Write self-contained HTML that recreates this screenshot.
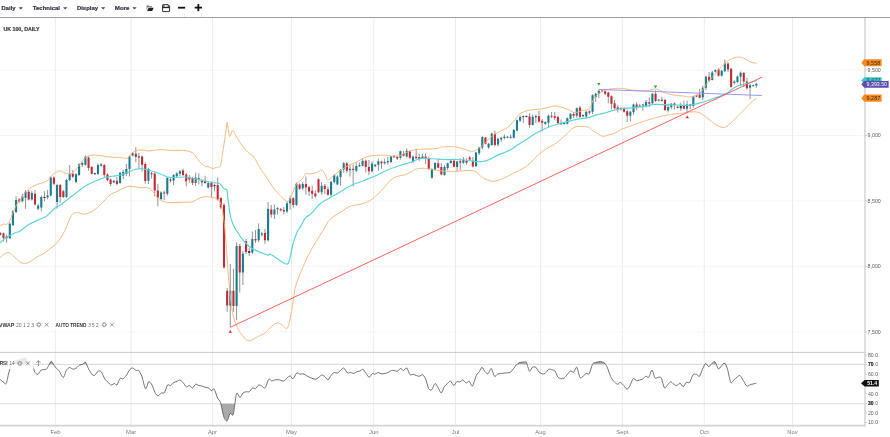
<!DOCTYPE html>
<html><head><meta charset="utf-8"><title>UK 100 Daily</title>
<style>html,body{margin:0;padding:0;background:#fff;overflow:hidden}svg{display:block;filter:blur(0.3px);font-family:"Liberation Sans",sans-serif}.tb{font-weight:bold;font-size:5.8px;fill:#333842;stroke:#333842;stroke-width:0.22px}.ax{font-size:5.4px;fill:#5a5a5a}.mo{font-size:5.8px;fill:#7a7a7a}.lb{font-weight:bold;font-size:5.1px;fill:#333}.ll{font-size:5.1px;fill:#6a6a6a}</style></head><body>
<svg width="890" height="437" viewBox="0 0 890 437">
<rect width="890" height="437" fill="#fff"/>
<g stroke="#e7e7e7" stroke-width="0.8">
<line x1="55.4" y1="18" x2="55.4" y2="427.6"/>
<line x1="131.1" y1="18" x2="131.1" y2="427.6"/>
<line x1="212.5" y1="18" x2="212.5" y2="427.6"/>
<line x1="291.5" y1="18" x2="291.5" y2="427.6"/>
<line x1="373.7" y1="18" x2="373.7" y2="427.6"/>
<line x1="455.5" y1="18" x2="455.5" y2="427.6"/>
<line x1="540.5" y1="18" x2="540.5" y2="427.6"/>
<line x1="622.3" y1="18" x2="622.3" y2="427.6"/>
<line x1="704.3" y1="18" x2="704.3" y2="427.6"/>
<line x1="792.5" y1="18" x2="792.5" y2="427.6"/>
</g>
<g stroke="#f1f1f1" stroke-width="0.75">
<line x1="0" y1="70.2" x2="863" y2="70.2"/>
<line x1="0" y1="135.5" x2="863" y2="135.5"/>
<line x1="0" y1="200.9" x2="863" y2="200.9"/>
<line x1="0" y1="266.4" x2="863" y2="266.4"/>
<line x1="0" y1="331.9" x2="863" y2="331.9"/>
</g>
<g stroke="#dedede" stroke-width="1.1">
<line x1="0" y1="364.4" x2="865" y2="364.4"/>
<line x1="0" y1="403.7" x2="865" y2="403.7"/>
</g>
<polygon points="12.15,364.3 15,360.5 20,359.25 25,357.5 28.75,361.75 31.3,364.3" fill="#ababab"/>
<polygon points="49.46,364.3 51.25,361.25 53.33,364.3" fill="#ababab"/>
<polygon points="82.77,364.3 83,364.25 85.5,362.25 86.45,364.3" fill="#ababab"/>
<polygon points="517.16,364.3 519.5,362.5 522.5,362.25 526.25,362.25 526.99,364.3" fill="#ababab"/>
<polygon points="592.48,364.3 592.5,364.25 595.5,362.5 598.75,361.75 601.75,361.75 605,363.5 605.44,364.3" fill="#ababab"/>
<polygon points="705.08,364.3 705.5,363.5 706.3,364.3" fill="#ababab"/>
<polygon points="711.01,364.3 711.75,363.5 715,361.75 716.18,364.3" fill="#ababab"/>
<polygon points="723.2,364.3 724.5,363 725.12,364.3" fill="#ababab"/>
<polygon points="220.77,403.7 223.75,416.75 227,421 230,413.5 233,415 234.88,403.7" fill="#a9a9a9"/>
<path d="M0.35 232V235.5M3.5 232.5V241.5M6.65 234.5V242.75M9.8 222.5V239M12.95 210V226.25M16.1 196.25V213M19.25 198V203M22.4 193.75V202.5M25.55 190V208.75M28.7 190V200.5M31.85 191.25V200.5M35 190V205.5M38.15 203.75V210M41.3 195.5V211.25M44.45 191.25V201.25M47.6 190V199.25M50.75 176.25V196.5M53.9 176.25V185M57.05 183.75V208.75M60.2 184V202.5M63.35 190V198M66.5 178.75V198M69.65 165V181.25M72.8 170V178M75.95 173V183M79.1 163V176M82.25 161.25V167M85.4 155.5V165.75M88.55 156.25V170.5M91.7 166V174.5M94.85 172.5V174.75M98 163.5V174.75M101.15 163V166.75M104.3 164V177M107.45 173.25V181.25M110.6 178.5V186M113.75 180V183.25M116.9 176.5V185.25M120.05 171.75V183.75M123.2 169.5V179M126.35 164V176M129.5 155.5V176.5M132.65 152V156.5M135.8 147.25V162.25M138.95 152.75V168M142.1 155.5V171.75M145.25 162.25V183.75M148.4 167.75V184M151.55 172V178.5M154.7 172.5V196.25M157.85 183.75V206.25M161 191.25V200M164.15 190.5V200M167.3 177V195.75M170.45 177.5V182.5M173.6 174V185M176.75 172V177M179.9 170V176.25M183.05 168.75V176M186.2 173V186.25M189.35 175V182.5M192.5 176.75V185M195.65 172.5V186.25M198.8 173.25V184.5M201.95 179.5V186.5M205.1 175.75V184M208.25 181.5V188.5M211.4 181.5V197.5M214.55 183.75V191.25M217.7 177.5V200.5M220.85 197V209M224 203V268.5M227.15 288V311.8M230.3 264V327.3M233.45 268.7V311.8M236.6 242.5V320M239.75 244V292.5M242.9 251V285M246.05 239V254M249.2 248V256M252.35 231.5V254M255.5 230V243M258.65 223.3V242.2M261.8 232V236.5M264.95 229V244M268.1 202V241.5M271.25 205V217.7M274.4 204.5V219M277.55 207V214.5M280.7 208V211.5M283.85 207V214.5M287 201.3V213.3M290.15 195.7V209.5M293.3 197V207.6M296.45 182.5V206M299.6 183.5V190M302.75 182V190.25M305.9 176.5V194.75M309.05 186V196M312.2 185.75V199M315.35 190.25V197.75M318.5 178.5V193M321.65 182V194.75M324.8 184V194M327.95 186.5V195.75M331.1 181V196.5M334.25 174.25V183.25M337.4 175.5V185.25M340.55 169V185.75M343.7 162V172.75M346.85 162V173.25M350 165V176.5M353.15 164.5V186.5M356.3 162.5V172M359.45 162.5V167M362.6 158.25V166.25M365.75 159.75V172.5M368.9 160V175.25M372.05 161.25V172.5M375.2 163.75V167.25M378.35 158.75V170.75M381.5 160.75V168.75M384.65 158.75V164.5M387.8 157V164.5M390.95 155.75V163.25M394.1 155.25V158M397.25 156.25V160M400.4 150.5V159.5M403.55 150.75V156.5M406.7 148.25V157.75M409.85 150.5V159M413 155.75V162.75M416.15 148.75V159M419.3 153.75V160.75M422.45 153.75V159M425.6 153.25V164M428.75 156.5V169.75M431.9 168.25V178.75M435.05 162.25V170.75M438.2 159V168.25M441.35 163.25V175.25M444.5 165.25V175.75M447.65 162.5V170.25M450.8 160V163.75M453.95 160V167.5M457.1 160.75V171.5M460.25 158.25V170.25M463.4 157V164M466.55 158.25V164.5M469.7 155.75V160.25M472.85 157V167.5M476 151.75V167M479.15 146.75V155M482.3 136.25V149.5M485.45 136.75V144.5M488.6 143V148.75M491.75 132.5V145.75M494.9 130.5V146.25M498.05 137.75V146.25M501.2 136.75V142M504.35 134.5V139.5M507.5 136V138.5M510.65 134.5V138.75M513.8 129V138.5M516.95 119.5V131.25M520.1 115.25V122M523.25 115.5V123M526.4 115.25V117.5M529.55 113.25V127.75M532.7 114.5V125.5M535.85 114.5V123.25M539 110.75V122.75M542.15 119V131.5M545.3 121.25V124.75M548.45 114.5V127M551.6 112V118.25M554.75 112V120.25M557.9 115.75V124.5M561.05 119.5V124.5M564.2 122.25V124.5M567.35 117.5V124.5M570.5 113.25V119.5M573.65 112V118.25M576.8 107.5V117.75M579.95 105.75V118.25M583.1 114.25V117M586.25 110.75V118M589.4 110.25V114.5M592.55 94.25V114M595.7 92.75V102M598.85 89.5V98.25M602 90V92.25M605.15 90.5V95M608.3 91.75V103.25M611.45 95.25V109.5M614.6 100V109.5M617.75 105V112.5M620.9 107.25V110.5M624.05 107V112.5M627.2 109.5V122M630.35 110.75V121.5M633.5 103.5V115M636.65 102V110M639.8 103.75V107.5M642.95 103.75V110.75M646.1 100V107.5M649.25 97.5V107M652.4 92.75V104M655.55 90.5V102M658.7 99V101.5M661.85 96.75V101.25M665 98.75V111M668.15 103.75V112.5M671.3 103V109.5M674.45 102.5V109.5M677.6 105.75V108.25M680.75 102.5V110.75M683.9 100.75V109.5M687.05 100.75V112M690.2 103.75V109.5M693.35 95.75V107.5M696.5 94.75V97M699.65 89V98.5M702.8 85.75V100.25M705.95 75.75V90.25M709.1 72V81.75M712.25 70.75V80.5M715.4 69.25V72.5M718.55 68.25V76.5M721.7 69.75V76.5M724.85 59.5V72M728 62.5V72M731.15 67.75V87.75M734.3 80.25V84.5M737.45 75.5V83.25M740.6 71.5V85.75M743.75 72V87M746.9 77.75V89.5M750.05 84V99M753.2 84.75V86.5M756.35 82.75V87.75" stroke="#4a4a4a" stroke-width="0.6" fill="none"/>
<path d="M8.75 223.75h2.1v14.5h-2.1zM11.9 211.25h2.1v13.75h-2.1zM15.05 200h2.1v12h-2.1zM21.35 196.25h2.1v5h-2.1zM24.5 191.75h2.1v6.25h-2.1zM30.8 193h2.1v6.5h-2.1zM37.1 205.5h2.1v3.25h-2.1zM40.25 197h2.1v10.5h-2.1zM46.55 195.5h2.1v1.75h-2.1zM49.7 177.5h2.1v18h-2.1zM56 185h2.1v17h-2.1zM65.45 180h2.1v17h-2.1zM68.6 173.75h2.1v6.25h-2.1zM74.9 174.25h2.1v7.75h-2.1zM78.05 164.25h2.1v10.75h-2.1zM81.2 163h2.1v1.75h-2.1zM84.35 156.75h2.1v8h-2.1zM96.95 165h2.1v9h-2.1zM100.1 164.25h2.1v1.5h-2.1zM112.7 180.75h2.1v1.75h-2.1zM119 172.75h2.1v10.25h-2.1zM122.15 172h2.1v3.75h-2.1zM125.3 169h2.1v5h-2.1zM128.45 156.5h2.1v12.5h-2.1zM131.6 153.25h2.1v2.25h-2.1zM147.35 169h2.1v11.75h-2.1zM159.95 192.5h2.1v6.5h-2.1zM166.25 178h2.1v15.75h-2.1zM172.55 175h2.1v5.5h-2.1zM175.7 173.5h2.1v2.75h-2.1zM178.85 171.25h2.1v2.5h-2.1zM194.6 177.5h2.1v5.5h-2.1zM207.2 183h2.1v4.5h-2.1zM229.25 290.7h2.1v14.7h-2.1zM235.55 246h2.1v60h-2.1zM241.85 253.75h2.1v18.75h-2.1zM251.3 239h2.1v13.5h-2.1zM257.6 229h2.1v11.3h-2.1zM260.75 233.4h2.1v1.3h-2.1zM267.05 208.9h2.1v31.4h-2.1zM273.35 209.5h2.1v5h-2.1zM276.5 208h2.1v1.2h-2.1zM285.95 203.2h2.1v8.2h-2.1zM289.1 198.2h2.1v5h-2.1zM295.4 183.75h2.1v21.05h-2.1zM301.7 184h2.1v4.25h-2.1zM320.6 185.75h2.1v6.5h-2.1zM330.05 182h2.1v12.75h-2.1zM333.2 175.25h2.1v6.75h-2.1zM336.35 176.5h2.1v8h-2.1zM339.5 170h2.1v7h-2.1zM342.65 163.25h2.1v6.25h-2.1zM348.95 168.75h2.1v1.5h-2.1zM355.25 166h2.1v4.75h-2.1zM358.4 165h2.1v1.25h-2.1zM361.55 160.75h2.1v5h-2.1zM371 163.5h2.1v7.75h-2.1zM374.15 164.75h2.1v1.5h-2.1zM377.3 161.25h2.1v3.5h-2.1zM383.6 162h2.1v1.25h-2.1zM389.9 156.25h2.1v5.75h-2.1zM399.35 151.25h2.1v6.5h-2.1zM405.65 150.75h2.1v5.75h-2.1zM411.95 156.5h2.1v5.5h-2.1zM421.4 156.5h2.1v1.75h-2.1zM430.85 169h2.1v8.75h-2.1zM434 163h2.1v6.5h-2.1zM443.45 167h2.1v8h-2.1zM446.6 163.25h2.1v4.75h-2.1zM449.75 160.75h2.1v2.25h-2.1zM456.05 161.5h2.1v5.5h-2.1zM462.35 159.5h2.1v3.25h-2.1zM474.95 152.5h2.1v13.75h-2.1zM478.1 147.5h2.1v5.75h-2.1zM481.25 137h2.1v10.5h-2.1zM487.55 143.75h2.1v3.75h-2.1zM490.7 133.75h2.1v11.25h-2.1zM497 138.75h2.1v5.75h-2.1zM500.15 137.75h2.1v1.75h-2.1zM506.45 136.75h2.1v1h-2.1zM509.6 136.75h2.1v1h-2.1zM512.75 130h2.1v7.75h-2.1zM515.9 120.25h2.1v10.25h-2.1zM519.05 117h2.1v3.75h-2.1zM531.65 116.75h2.1v8.25h-2.1zM544.25 122h2.1v2h-2.1zM547.4 115.75h2.1v7h-2.1zM563.15 123h2.1v0.9h-2.1zM566.3 118.25h2.1v5.5h-2.1zM569.45 113.75h2.1v5h-2.1zM575.75 108.25h2.1v7.5h-2.1zM585.2 111.75h2.1v4.75h-2.1zM591.5 95.25h2.1v16.5h-2.1zM594.65 93.75h2.1v3.25h-2.1zM597.8 90.75h2.1v3h-2.1zM629.3 111.75h2.1v4h-2.1zM632.45 104.5h2.1v7.75h-2.1zM638.75 105.5h2.1v1.25h-2.1zM641.9 104.5h2.1v1h-2.1zM645.05 102h2.1v4h-2.1zM651.35 93.75h2.1v9.5h-2.1zM657.65 99.75h2.1v1h-2.1zM667.1 107h2.1v3.5h-2.1zM670.25 103.75h2.1v3.5h-2.1zM686 104.5h2.1v4.25h-2.1zM692.3 96.5h2.1v9.5h-2.1zM701.75 87.75h2.1v9.5h-2.1zM704.9 76.75h2.1v11h-2.1zM711.2 72.5h2.1v7.5h-2.1zM714.35 70h2.1v1.75h-2.1zM720.65 70.75h2.1v5h-2.1zM723.8 63.25h2.1v8h-2.1zM733.25 81.5h2.1v1.5h-2.1zM736.4 76.5h2.1v5.5h-2.1zM739.55 72.75h2.1v4h-2.1zM749 85.25h2.1v2.5h-2.1zM752.15 85.25h2.1v0.9h-2.1zM755.3 83.75h2.1v1.75h-2.1z" fill="#187d90"/>
<path d="M2.45 233.25h2.1v4.75h-2.1zM5.6 236.5h2.1v1.75h-2.1zM18.2 199.5h2.1v2h-2.1zM27.65 191.75h2.1v7.75h-2.1zM33.95 193.75h2.1v10.75h-2.1zM52.85 177.5h2.1v6.25h-2.1zM59.15 185h2.1v12h-2.1zM62.3 191.25h2.1v5.75h-2.1zM71.75 173.75h2.1v3h-2.1zM87.5 157.5h2.1v10.5h-2.1zM90.65 167h2.1v6.75h-2.1zM103.25 165h2.1v10h-2.1zM106.4 174.5h2.1v5.5h-2.1zM109.55 179.5h2.1v4.5h-2.1zM115.85 180.75h2.1v3.25h-2.1zM134.75 153.75h2.1v3.25h-2.1zM141.05 156.5h2.1v8.25h-2.1zM144.2 164h2.1v17h-2.1zM150.5 173.25h2.1v1h-2.1zM153.65 173.5h2.1v17h-2.1zM156.8 190.5h2.1v7h-2.1zM163.1 192.5h2.1v1h-2.1zM182 170.5h2.1v4.5h-2.1zM185.15 174.5h2.1v6.75h-2.1zM188.3 177.5h2.1v2h-2.1zM191.45 178h2.1v5h-2.1zM197.75 178.25h2.1v1.25h-2.1zM204.05 180.75h2.1v2.25h-2.1zM210.35 183h2.1v4h-2.1zM216.65 185h2.1v14.5h-2.1zM219.8 198h2.1v9.5h-2.1zM222.95 205h2.1v62.5h-2.1zM226.1 290.7h2.1v14.7h-2.1zM232.4 290.7h2.1v15.3h-2.1zM238.7 246h2.1v26.5h-2.1zM245 241.3h2.1v10.7h-2.1zM254.45 239h2.1v1.4h-2.1zM263.9 233.1h2.1v7.2h-2.1zM270.2 209.5h2.1v5h-2.1zM279.65 209h2.1v1.2h-2.1zM282.8 210h2.1v1.6h-2.1zM292.25 198.2h2.1v6.8h-2.1zM298.55 184.5h2.1v4.25h-2.1zM304.85 184h2.1v3.5h-2.1zM308 187h2.1v4.5h-2.1zM311.15 190.75h2.1v3h-2.1zM314.3 193.5h2.1v2.75h-2.1zM317.45 179.25h2.1v13h-2.1zM323.75 185.75h2.1v3.25h-2.1zM326.9 189.25h2.1v5.5h-2.1zM345.8 163.25h2.1v7.5h-2.1zM352.1 168.75h2.1v1.25h-2.1zM364.7 160.75h2.1v6.25h-2.1zM367.85 167h2.1v4.25h-2.1zM380.45 161.5h2.1v1.75h-2.1zM393.05 156h2.1v1.25h-2.1zM396.2 157h2.1v1.5h-2.1zM402.5 153.75h2.1v2h-2.1zM408.8 151.25h2.1v6.5h-2.1zM415.1 156.75h2.1v1.5h-2.1zM418.25 157h2.1v2h-2.1zM424.55 156.5h2.1v1.75h-2.1zM427.7 159h2.1v10h-2.1zM437.15 163.25h2.1v4.5h-2.1zM440.3 167h2.1v7.5h-2.1zM452.9 160.75h2.1v6h-2.1zM459.2 161.25h2.1v1.5h-2.1zM465.5 160.75h2.1v2h-2.1zM468.65 157.5h2.1v2h-2.1zM471.8 160.75h2.1v5.75h-2.1zM484.4 137.5h2.1v6.25h-2.1zM493.85 133.75h2.1v11.25h-2.1zM528.5 116.5h2.1v8.5h-2.1zM537.95 116.25h2.1v5.25h-2.1zM541.1 120.75h2.1v2h-2.1zM550.55 115.75h2.1v1h-2.1zM553.7 116.25h2.1v1.75h-2.1zM556.85 117h2.1v6h-2.1zM572.6 114h2.1v1.75h-2.1zM578.9 107.5h2.1v9.25h-2.1zM588.35 111.25h2.1v1.5h-2.1zM600.95 90.5h2.1v1h-2.1zM604.1 91.25h2.1v2.5h-2.1zM607.25 92.5h2.1v4.25h-2.1zM610.4 96.25h2.1v7.5h-2.1zM613.55 103.25h2.1v5h-2.1zM616.7 107.25h2.1v2.25h-2.1zM623 108.25h2.1v3.5h-2.1zM626.15 111.25h2.1v4.5h-2.1zM635.6 104.5h2.1v2.5h-2.1zM648.2 102.25h2.1v1.5h-2.1zM654.5 93.75h2.1v7.25h-2.1zM663.95 100h2.1v10h-2.1zM673.4 103.5h2.1v1.5h-2.1zM682.85 105.75h2.1v3h-2.1zM698.6 94.75h2.1v3h-2.1zM708.05 76.75h2.1v4h-2.1zM717.5 69.5h2.1v6.25h-2.1zM726.95 63.5h2.1v6h-2.1zM730.1 68.75h2.1v18h-2.1zM742.7 73h2.1v8.5h-2.1zM745.85 81.5h2.1v6.75h-2.1z" fill="#c42a36"/>
<path d="M-0.7 233.25h2.1v1.25h-2.1zM43.4 197h2.1v0.9h-2.1zM93.8 173.25h2.1v0.9h-2.1zM137.9 156.5h2.1v0.9h-2.1zM169.4 179.5h2.1v1h-2.1zM200.9 181.25h2.1v0.9h-2.1zM213.5 185h2.1v1.25h-2.1zM248.15 251h2.1v2h-2.1zM386.75 161.25h2.1v0.9h-2.1zM503.3 136.75h2.1v0.9h-2.1zM522.2 116.25h2.1v0.9h-2.1zM525.35 116h2.1v0.9h-2.1zM534.8 116.25h2.1v0.9h-2.1zM560 123.25h2.1v0.9h-2.1zM582.05 115.25h2.1v0.9h-2.1zM619.85 108.25h2.1v1h-2.1zM660.8 99.75h2.1v1h-2.1zM676.55 106.75h2.1v0.9h-2.1zM679.7 106h2.1v2.25h-2.1zM689.15 104.5h2.1v0.9h-2.1zM695.45 95.5h2.1v0.9h-2.1z" fill="#3a3a3a"/>
<g fill="none" stroke-linejoin="round" stroke-linecap="round">
<path d="M-2 226C-1.67 225.93 -0.97 225.92 0 225.6C0.97 225.28 2.75 224.27 3.8 224.1C4.85 223.93 5.37 225.03 6.3 224.6C7.23 224.17 8.4 223.18 9.4 221.5C10.4 219.82 11.13 217.22 12.3 214.5C13.47 211.78 14.98 207.8 16.4 205.2C17.82 202.6 19.33 201 20.8 198.9C22.27 196.8 23.85 194.28 25.2 192.6C26.55 190.92 27.43 189.95 28.9 188.8C30.37 187.65 31.9 186.65 34 185.7C36.1 184.75 39.42 183.83 41.5 183.1C43.58 182.37 45.08 182.23 46.5 181.3C47.92 180.37 48.79 178.76 50 177.5C51.21 176.24 52.08 174.83 53.75 173.75C55.42 172.67 57.92 171.04 60 171C62.08 170.96 64.17 173.17 66.25 173.5C68.33 173.83 70.62 174 72.5 173C74.38 172 75.83 169.46 77.5 167.5C79.17 165.54 81.04 163 82.5 161.25C83.96 159.5 84.58 158.04 86.25 157C87.92 155.96 90.21 155.25 92.5 155C94.79 154.75 97.08 155.17 100 155.5C102.92 155.83 106.67 156.67 110 157C113.33 157.33 117.08 157.33 120 157.5C122.92 157.67 125.42 158.83 127.5 158C129.58 157.17 130.42 153.83 132.5 152.5C134.58 151.17 137.08 150.25 140 150C142.92 149.75 146.67 151.08 150 151C153.33 150.92 156.25 149.58 160 149.5C163.75 149.42 168.33 150.33 172.5 150.5C176.67 150.67 181.67 150.12 185 150.5C188.33 150.88 190.83 152 192.5 152.8C194.17 153.6 193.75 153.73 195 155.3C196.25 156.87 198.32 160.42 200 162.2C201.68 163.98 203.63 165.23 205.1 166C206.57 166.77 207.55 166.38 208.8 166.8C210.05 167.22 211.33 168.4 212.6 168.5C213.87 168.6 215.13 167.82 216.4 167.4C217.67 166.98 219.27 167.82 220.2 166C221.13 164.18 221.27 160.8 222 156.5C222.73 152.2 223.87 145.12 224.6 140.2C225.33 135.28 225.98 129.98 226.4 127C226.82 124.02 226.83 122.22 227.1 122.3C227.37 122.38 227.58 125.15 228 127.5C228.42 129.85 229.05 135.48 229.6 136.4C230.15 137.32 230.72 134.03 231.3 133C231.88 131.97 232.23 129.53 233.1 130.2C233.97 130.87 234.88 134.3 236.5 137C238.12 139.7 240.7 143.67 242.8 146.4C244.9 149.13 247.42 151.82 249.1 153.4C250.78 154.98 251.65 154.55 252.9 155.9C254.15 157.25 255.25 159.23 256.6 161.5C257.95 163.77 259.6 167.25 261 169.5C262.4 171.75 262.67 171.58 265 175C267.33 178.42 271.67 185.83 275 190C278.33 194.17 282.71 198.17 285 200C287.29 201.83 287.29 202.67 288.75 201C290.21 199.33 292.46 192.83 293.75 190C295.04 187.17 295.46 185.53 296.5 184C297.54 182.47 298.92 181.8 300 180.8C301.08 179.8 302.05 179.22 303 178C303.95 176.78 304.52 174.18 305.7 173.5C306.88 172.82 308.32 174.05 310.1 173.9C311.88 173.75 314.52 173.23 316.4 172.6C318.28 171.97 320.03 169.98 321.4 170.1C322.77 170.22 323.65 171.72 324.6 173.3C325.55 174.88 326.15 178.77 327.1 179.6C328.05 180.43 328.73 179.35 330.3 178.3C331.87 177.25 334.42 174.87 336.5 173.3C338.58 171.73 340.7 170.27 342.8 168.9C344.9 167.53 347 166.15 349.1 165.1C351.2 164.05 353.08 163.72 355.4 162.6C357.72 161.48 360.48 159.52 363 158.4C365.52 157.28 368 156.42 370.5 155.9C373 155.38 375.48 155.45 378 155.3C380.52 155.15 383.27 154.85 385.6 155C387.93 155.15 389.6 156.12 392 156.2C394.4 156.28 397.42 156.2 400 155.5C402.58 154.8 405 152.98 407.5 152C410 151.02 412.08 150.08 415 149.6C417.92 149.12 421.42 149.27 425 149.1C428.58 148.93 433.75 148.95 436.5 148.6C439.25 148.25 439.2 147.32 441.5 147C443.8 146.68 447.57 146.65 450.3 146.7C453.03 146.75 455.38 146.83 457.9 147.3C460.42 147.77 463.1 148.82 465.4 149.5C467.7 150.18 469.82 151.35 471.7 151.4C473.58 151.45 475.23 150.53 476.7 149.8C478.17 149.07 479.03 148.22 480.5 147C481.97 145.78 483.82 144.08 485.5 142.5C487.18 140.92 488.6 139.17 490.6 137.5C492.6 135.83 494.68 134.17 497.5 132.5C500.32 130.83 504.58 129.58 507.5 127.5C510.42 125.42 512.92 122.29 515 120C517.08 117.71 517.5 115.42 520 113.75C522.5 112.08 526.25 110.83 530 110C533.75 109.17 538.48 109.4 542.5 108.75C546.52 108.1 551.12 106.39 554.1 106.1C557.08 105.81 558.3 106.53 560.4 107C562.5 107.47 564.82 108.17 566.7 108.9C568.58 109.63 570.23 110.78 571.7 111.4C573.17 112.02 573.82 112.7 575.5 112.6C577.18 112.5 579.72 111.32 581.8 110.8C583.88 110.28 586.53 110.23 588 109.5C589.47 108.77 589.65 108.18 590.6 106.4C591.55 104.62 592.55 100.78 593.7 98.8C594.85 96.82 596.13 95.72 597.5 94.5C598.87 93.28 600.23 92.33 601.9 91.5C603.57 90.67 604.9 90.03 607.5 89.5C610.1 88.97 614.58 88.42 617.5 88.3C620.42 88.18 622.68 88.52 625 88.8C627.32 89.08 628.85 89.7 631.4 90C633.95 90.3 637.57 90.5 640.3 90.6C643.03 90.7 645.3 90.85 647.8 90.6C650.3 90.35 653.42 89.2 655.3 89.1C657.18 89 657.42 89.33 659.1 90C660.78 90.67 663.08 92.27 665.4 93.1C667.72 93.93 670.27 94.53 673 95C675.73 95.47 678.87 95.58 681.8 95.9C684.73 96.22 688.3 96.95 690.6 96.9C692.9 96.85 693.93 96.33 695.6 95.6C697.27 94.87 699.13 93.87 700.6 92.5C702.07 91.13 703.13 89.18 704.4 87.4C705.67 85.62 706.85 83.53 708.2 81.8C709.55 80.07 711.13 78.53 712.5 77C713.87 75.47 714.92 74.27 716.4 72.6C717.88 70.93 719.72 68.77 721.4 67C723.08 65.23 724.82 63.37 726.5 62C728.18 60.63 729.83 59.6 731.5 58.8C733.17 58 734.82 57.42 736.5 57.2C738.18 56.98 739.92 57.07 741.6 57.5C743.28 57.93 744.93 59 746.6 59.8C748.27 60.6 749.98 61.73 751.6 62.3C753.23 62.87 755.56 63.05 756.35 63.2" stroke="#f6b27a" stroke-width="0.9"/>
<path d="M-2 259.5C-1.67 259.22 -0.97 258.7 0 257.8C0.97 256.9 2.33 254.93 3.8 254.1C5.27 253.27 7.33 252.6 8.8 252.8C10.27 253 11.13 254.1 12.6 255.3C14.07 256.5 16.03 258.72 17.6 260C19.17 261.28 20.43 262.5 22 263C23.57 263.5 25.22 263.5 27 263C28.78 262.5 30.92 261.07 32.7 260C34.48 258.93 35.82 257.7 37.7 256.6C39.58 255.5 41.9 254.77 44 253.4C46.1 252.03 48.42 249.87 50.3 248.4C52.18 246.93 53.62 246.28 55.3 244.6C56.98 242.92 58.72 240.82 60.4 238.3C62.08 235.78 63.93 232.53 65.4 229.5C66.87 226.47 68.05 222.62 69.2 220.1C70.35 217.58 71.05 215.7 72.3 214.4C73.55 213.1 74.7 212.35 76.7 212.3C78.7 212.25 81.57 214.37 84.3 214.1C87.03 213.83 90.38 212.28 93.1 210.7C95.82 209.12 97.78 207.22 100.6 204.6C103.42 201.98 107.18 197.22 110 195C112.82 192.78 115 192.5 117.5 191.25C120 190 122.92 188.33 125 187.5C127.08 186.67 127.5 186.25 130 186.25C132.5 186.25 136.67 187.08 140 187.5C143.33 187.92 147.08 187.08 150 188.75C152.92 190.42 155 195.29 157.5 197.5C160 199.71 162.08 201.17 165 202C167.92 202.83 171.83 202.47 175 202.5C178.17 202.53 181.25 202.28 184 202.2C186.75 202.12 189.2 202.53 191.5 202C193.8 201.47 195.7 199.87 197.8 199C199.9 198.13 201.58 197.07 204.1 196.8C206.62 196.53 210.8 197.03 212.9 197.4C215 197.77 215.45 198.1 216.7 199C217.95 199.9 219.47 200.92 220.4 202.8C221.33 204.68 221.8 207.93 222.3 210.3C222.8 212.67 222.95 213.72 223.4 217C223.85 220.28 224.42 223.67 225 230C225.58 236.33 226.28 246.67 226.9 255C227.53 263.33 227.82 270.42 228.75 280C229.68 289.58 231.04 304.5 232.5 312.5C233.96 320.5 235.83 324.17 237.5 328C239.17 331.83 240.62 333.33 242.5 335.5C244.38 337.67 246.25 340.79 248.75 341C251.25 341.21 254.79 338.08 257.5 336.75C260.21 335.42 263.12 334.25 265 333C266.88 331.75 267.42 330.58 268.75 329.25C270.08 327.92 271.54 326.04 273 325C274.46 323.96 276 323.03 277.5 323C279 322.97 280.47 323.88 282 324.8C283.53 325.72 285.53 328.72 286.7 328.5C287.87 328.28 288.18 326.33 289 323.5C289.82 320.67 290.83 315.83 291.6 311.5C292.37 307.17 292.83 302.08 293.6 297.5C294.38 292.92 294.35 289.83 296.25 284C298.15 278.17 302.29 268.58 305 262.5C307.71 256.42 309.58 252.71 312.5 247.5C315.42 242.29 319.58 235.96 322.5 231.25C325.42 226.54 327.08 222.38 330 219.25C332.92 216.12 336.67 214.67 340 212.5C343.33 210.33 347.33 207.5 350 206.25C352.67 205 353.83 205.44 356 205C358.17 204.56 360.58 204.38 363 203.6C365.42 202.82 368 201.9 370.5 200.3C373 198.7 375.92 195.88 378 194C380.08 192.12 381.33 190.88 383 189C384.67 187.12 386.33 184.48 388 182.7C389.67 180.92 391.33 179.38 393 178.3C394.67 177.22 396.67 176.65 398 176.2C399.33 175.75 399.62 175.9 401 175.6C402.38 175.3 404.37 175.2 406.3 174.4C408.23 173.6 410.92 171.7 412.6 170.8C414.28 169.9 414.3 169.42 416.4 169C418.5 168.58 422.1 168.13 425.2 168.3C428.3 168.47 431.7 169.51 435 170C438.3 170.49 441.25 171.04 445 171.25C448.75 171.46 453.75 171.38 457.5 171.25C461.25 171.12 464.58 170.5 467.5 170.5C470.42 170.5 472.5 170.08 475 171.25C477.5 172.42 479.58 175.83 482.5 177.5C485.42 179.17 489.17 181.04 492.5 181.25C495.83 181.46 499.17 180 502.5 178.75C505.83 177.5 509.17 175.42 512.5 173.75C515.83 172.08 519.58 170.49 522.5 168.75C525.42 167.01 527.5 165.48 530 163.3C532.5 161.12 535 158 537.5 155.7C540 153.4 542.23 151.37 545 149.5C547.77 147.63 551.53 146.13 554.1 144.5C556.67 142.87 558.3 141.45 560.4 139.7C562.5 137.95 564.82 135.78 566.7 134C568.58 132.22 570.03 130.25 571.7 129C573.37 127.75 574.82 126.92 576.7 126.5C578.58 126.08 581.12 126.4 583 126.5C584.88 126.6 586.32 126.37 588 127.1C589.68 127.83 591.42 129.75 593.1 130.9C594.78 132.05 596.43 133.1 598.1 134C599.77 134.9 601.42 136.13 603.1 136.3C604.78 136.47 606.8 135.33 608.2 135C609.6 134.67 610.35 134.63 611.5 134.3C612.65 133.97 613.25 133.9 615.1 133C616.95 132.1 619.88 130.1 622.6 128.9C625.32 127.7 628.25 126.95 631.4 125.8C634.55 124.65 638.35 123.08 641.5 122C644.65 120.92 647.15 120.23 650.3 119.3C653.45 118.37 657.05 117.2 660.4 116.4C663.75 115.6 667.05 114.98 670.4 114.5C673.75 114.02 677.55 113.88 680.5 113.5C683.45 113.12 685.58 112.47 688.1 112.2C690.62 111.93 693.52 111.73 695.6 111.9C697.68 112.07 698.92 112.35 700.6 113.2C702.28 114.05 703.97 115.73 705.7 117C707.43 118.27 709.24 119.47 711 120.8C712.76 122.13 714.12 123.88 716.25 125C718.38 126.12 721.46 127.71 723.75 127.5C726.04 127.29 727.71 125.62 730 123.75C732.29 121.88 735 118.75 737.5 116.25C740 113.75 742.5 111.25 745 108.75C747.5 106.25 750.61 102.97 752.5 101.25C754.39 99.53 755.71 98.88 756.35 98.4" stroke="#f6b27a" stroke-width="0.9"/>
<path d="M-2 244.2C-1.67 243.95 -1.17 243.65 0 242.7C1.17 241.75 3.33 239.68 5 238.5C6.67 237.32 8.1 236.65 10 235.6C11.9 234.55 14.92 232.83 16.4 232.2C17.88 231.57 17.63 232.5 18.9 231.8C20.17 231.1 22.33 229.22 24 228C25.67 226.78 26.62 225.82 28.9 224.5C31.18 223.18 34.97 221.35 37.7 220.1C40.43 218.85 43.2 218.27 45.3 217C47.4 215.73 48.63 213.98 50.3 212.5C51.97 211.02 53.42 209.48 55.3 208.1C57.18 206.72 59.98 205.32 61.6 204.2C63.22 203.08 62.77 203.14 65 201.4C67.23 199.66 71.67 196.28 75 193.75C78.33 191.22 81.67 188.33 85 186.25C88.33 184.17 91.67 182.71 95 181.25C98.33 179.79 102.08 178.33 105 177.5C107.92 176.67 110 176.67 112.5 176.25C115 175.83 117.5 175.62 120 175C122.5 174.38 125 173.42 127.5 172.5C130 171.58 132.5 170.12 135 169.5C137.5 168.88 140 168.58 142.5 168.75C145 168.92 147.08 169.67 150 170.5C152.92 171.33 157.08 172.67 160 173.75C162.92 174.83 165 176.38 167.5 177C170 177.62 172.08 177.5 175 177.5C177.92 177.5 182.25 176.92 185 177C187.75 177.08 188.95 177.52 191.5 178C194.05 178.48 197.37 179.23 200.3 179.9C203.23 180.57 206.05 181.43 209.1 182C212.15 182.57 216.5 182.67 218.6 183.3C220.7 183.93 220.8 184.88 221.7 185.8C222.6 186.72 223.15 188.13 224 188.8C224.85 189.47 226.17 188.43 226.8 189.8C227.43 191.17 227.43 194.22 227.8 197C228.17 199.78 228.6 203.5 229 206.5C229.4 209.5 229.62 212.25 230.2 215C230.78 217.75 231.53 220.5 232.5 223C233.47 225.5 233.92 226.75 236 230C238.08 233.25 242.25 239.38 245 242.5C247.75 245.62 248.75 246.67 252.5 248.75C256.25 250.83 264.42 254.04 267.5 255C270.58 255.96 267.92 253 271 254.5C274.08 256 282.92 263.17 286 264C289.08 264.83 288.7 261.17 289.5 259.5C290.3 257.83 290.22 256.58 290.8 254C291.38 251.42 292 247.55 293 244C294 240.45 295.53 235.63 296.8 232.7C298.07 229.77 299.13 228.92 300.6 226.4C302.07 223.88 304.13 219.5 305.6 217.6C307.07 215.7 307.93 216.25 309.4 215C310.87 213.75 312.47 212.12 314.4 210.1C316.33 208.08 317.57 205.42 321 202.9C324.43 200.38 330.17 197.82 335 195C339.83 192.18 345.42 188.33 350 186C354.58 183.67 358.33 182.67 362.5 181C366.67 179.33 370.83 177.83 375 176C379.17 174.17 383.33 171.75 387.5 170C391.67 168.25 396.25 166.75 400 165.5C403.75 164.25 406.67 163.62 410 162.5C413.33 161.38 416.25 159.38 420 158.75C423.75 158.12 428.33 158.62 432.5 158.75C436.67 158.88 440.83 159.38 445 159.5C449.17 159.62 453.47 159.33 457.5 159.5C461.53 159.67 465.78 160.13 469.2 160.5C472.62 160.87 475.28 161.65 478 161.7C480.72 161.75 483.4 161.27 485.5 160.8C487.6 160.33 488.52 159.85 490.6 158.9C492.68 157.95 495.48 156.25 498 155.1C500.52 153.95 503.53 152.92 505.7 152C507.87 151.08 509.02 150.77 511 149.6C512.98 148.43 515.23 146.55 517.6 145C519.97 143.45 522.68 141.92 525.2 140.3C527.72 138.68 529.98 136.97 532.7 135.3C535.42 133.63 538.57 131.77 541.5 130.3C544.43 128.83 547.57 127.55 550.3 126.5C553.03 125.45 555.38 124.73 557.9 124C560.42 123.27 562.47 122.83 565.4 122.1C568.33 121.37 571.73 120.33 575.5 119.6C579.27 118.87 584.65 118.43 588 117.7C591.35 116.97 593.08 115.93 595.6 115.2C598.12 114.47 600.53 113.98 603.1 113.3C605.67 112.62 608.78 111.72 611 111.1C613.22 110.48 614.03 110.07 616.4 109.6C618.77 109.13 622.27 108.63 625.2 108.3C628.13 107.97 631.28 107.87 634 107.6C636.72 107.33 639.2 106.98 641.5 106.7C643.8 106.42 645.92 106.28 647.8 105.9C649.68 105.52 651.12 104.65 652.8 104.4C654.48 104.15 655.8 104.35 657.9 104.4C660 104.45 662.47 104.6 665.4 104.7C668.33 104.8 672.15 104.88 675.5 105C678.85 105.12 682.57 105.45 685.5 105.4C688.43 105.35 690.78 105.07 693.1 104.7C695.42 104.33 697.3 103.77 699.4 103.2C701.5 102.63 703.77 101.93 705.7 101.3C707.63 100.67 708.78 100.18 711 99.4C713.22 98.62 716.42 97.57 719 96.6C721.58 95.63 724.42 94.77 726.5 93.6C728.58 92.43 729.62 90.9 731.5 89.6C733.38 88.3 735.92 86.65 737.8 85.8C739.68 84.95 741.12 84.93 742.8 84.5C744.48 84.07 746.37 83.62 747.9 83.2C749.43 82.78 750.59 82.42 752 82C753.41 81.58 755.62 80.92 756.35 80.7" stroke="#5fd1d6" stroke-width="1.2"/>
</g>
<line x1="598.8" y1="89.4" x2="762" y2="95.5" stroke="#8d8cf0" stroke-width="0.9"/>
<line x1="230.3" y1="327.3" x2="762" y2="77.2" stroke="#f0524f" stroke-width="0.9"/>
<polygon points="597.1,83 600.5,83 598.8,85.8" fill="#2e9e2e"/>
<polygon points="653.8,85.5 657.2,85.5 655.5,88.3" fill="#2e9e2e"/>
<polygon points="228.7,332.7 231.9,332.7 230.3,329.9" fill="#ee1c24"/>
<polygon points="685.7,118.3 688.9,118.3 687.3,115.5" fill="#ee1c24"/>
<path d="M-2 377C-1.73 377.3 -0.77 378.52 0 379.25C0.77 379.98 2.92 381.93 3.75 382.5C4.58 383.07 5.58 384.77 6.25 383.5C6.92 382.23 8.08 375.4 8.75 373C9.42 370.6 10.42 367.17 11.25 365.5C12.08 363.83 13.83 361.33 15 360.5C16.17 359.67 18.67 359.65 20 359.25C21.33 358.85 23.83 357.17 25 357.5C26.17 357.83 27.75 360.68 28.75 361.75C29.75 362.82 31.67 364.07 32.5 365.5C33.33 366.93 34.27 371.33 35 372.5C35.73 373.67 37.17 374.58 38 374.25C38.83 373.92 40.15 370.67 41.25 370C42.35 369.33 45.25 369.85 46.25 369.25C47.25 368.65 48.08 366.57 48.75 365.5C49.42 364.43 50.42 361.08 51.25 361.25C52.08 361.42 54 365.52 55 366.75C56 367.98 57.65 369.07 58.75 370.5C59.85 371.93 62.25 377.5 63.25 377.5C64.25 377.5 65.42 371.83 66.25 370.5C67.08 369.17 68.6 367.67 69.5 367.5C70.4 367.33 72.1 369.18 73 369.25C73.9 369.32 75.38 368.57 76.25 368C77.12 367.43 78.6 365.5 79.5 365C80.4 364.5 82.2 364.62 83 364.25C83.8 363.88 84.73 361.58 85.5 362.25C86.27 362.92 87.82 367.55 88.75 369.25C89.68 370.95 91.67 374.23 92.5 375C93.33 375.77 94.27 375.5 95 375C95.73 374.5 97.17 371.68 98 371.25C98.83 370.82 100.32 370.68 101.25 371.75C102.18 372.82 104 377.75 105 379.25C106 380.75 107.92 382.23 108.75 383C109.58 383.77 110.48 384.93 111.25 385C112.02 385.07 113.73 383.5 114.5 383.5C115.27 383.5 116.27 385.67 117 385C117.73 384.33 119.2 379.33 120 378.5C120.8 377.67 122.17 379.15 123 378.75C123.83 378.35 125.38 376.67 126.25 375.5C127.12 374.33 128.67 371 129.5 370C130.33 369 131.6 367.93 132.5 368C133.4 368.07 135.42 370.17 136.25 370.5C137.08 370.83 137.98 369.67 138.75 370.5C139.52 371.33 141.1 374.32 142 376.75C142.9 379.18 144.6 388.08 145.5 388.75C146.4 389.42 147.88 382.25 148.75 381.75C149.62 381.25 151.17 383.57 152 385C152.83 386.43 154.2 391.03 155 392.5C155.8 393.97 157.17 395.93 158 396C158.83 396.07 160.38 393.47 161.25 393C162.12 392.53 163.67 393.57 164.5 392.5C165.33 391.43 166.7 385.93 167.5 385C168.3 384.07 169.67 385.83 170.5 385.5C171.33 385.17 172.88 383.07 173.75 382.5C174.62 381.93 176.17 381.58 177 381.25C177.83 380.92 179.2 379.83 180 380C180.8 380.17 182.17 381.6 183 382.5C183.83 383.4 185.42 386.35 186.25 386.75C187.08 387.15 188.42 385.33 189.25 385.5C190.08 385.67 191.67 388.17 192.5 388C193.33 387.83 194.67 384.58 195.5 384.25C196.33 383.92 197.88 385.27 198.75 385.5C199.62 385.73 201.17 385.77 202 386C202.83 386.23 204.1 386.98 205 387.25C205.9 387.52 207.92 387.57 208.75 388C209.58 388.43 210.52 390.33 211.25 390.5C211.98 390.67 213.42 388.25 214.25 389.25C215.08 390.25 216.67 396.23 217.5 398C218.33 399.77 219.67 400 220.5 402.5C221.33 405 222.88 414.28 223.75 416.75C224.62 419.22 226.17 421.43 227 421C227.83 420.57 229.2 414.3 230 413.5C230.8 412.7 232.33 416.4 233 415C233.67 413.6 234.5 405.93 235 403C235.5 400.07 236.08 393.73 236.75 393C237.42 392.27 239.17 397.5 240 397.5C240.83 397.5 242.17 393.77 243 393C243.83 392.23 245.42 391.92 246.25 391.75C247.08 391.58 248.42 392.25 249.25 391.75C250.08 391.25 251.67 388.4 252.5 388C253.33 387.6 254.67 389.15 255.5 388.75C256.33 388.35 257.92 385.37 258.75 385C259.58 384.63 260.92 385.6 261.75 386C262.58 386.4 264.07 388.9 265 388C265.93 387.1 267.82 380.18 268.75 379.25C269.68 378.32 271.17 380.93 272 381C272.83 381.07 274.1 379.92 275 379.75C275.9 379.58 277.58 379.58 278.75 379.75C279.92 379.92 282.58 381.3 283.75 381C284.92 380.7 286.6 378.17 287.5 377.5C288.4 376.83 289.77 375.83 290.5 376C291.23 376.17 292.17 379.15 293 378.75C293.83 378.35 295.82 373.6 296.75 373C297.68 372.4 299.17 374.15 300 374.25C300.83 374.35 302 373.48 303 373.75C304 374.02 306.4 375.68 307.5 376.25C308.6 376.82 310.25 377.6 311.25 378C312.25 378.4 314.1 379.25 315 379.25C315.9 379.25 317.1 378.57 318 378C318.9 377.43 320.82 375.17 321.75 375C322.68 374.83 324.17 376.08 325 376.75C325.83 377.42 327.17 380.23 328 380C328.83 379.77 330.42 376 331.25 375C332.08 374 333.42 372.77 334.25 372.5C335.08 372.23 336.67 373.27 337.5 373C338.33 372.73 339.67 371.17 340.5 370.5C341.33 369.83 342.82 367.67 343.75 368C344.68 368.33 346.6 372.4 347.5 373C348.4 373.6 349.67 372.43 350.5 372.5C351.33 372.57 352.92 373.6 353.75 373.5C354.58 373.4 355.92 372.08 356.75 371.75C357.58 371.42 359.17 371.33 360 371C360.83 370.67 362.17 368.88 363 369.25C363.83 369.62 365.42 372.68 366.25 373.75C367.08 374.82 368.42 377.28 369.25 377.25C370.08 377.22 371.73 373.9 372.5 373.5C373.27 373.1 374.27 374.38 375 374.25C375.73 374.12 377.17 372.57 378 372.5C378.83 372.43 380.32 373.62 381.25 373.75C382.18 373.88 384.1 373.67 385 373.5C385.9 373.33 387.17 372.9 388 372.5C388.83 372.1 390.42 370.77 391.25 370.5C392.08 370.23 393.42 370.4 394.25 370.5C395.08 370.6 396.67 371.52 397.5 371.25C398.33 370.98 399.7 368.6 400.5 368.5C401.3 368.4 402.67 370.57 403.5 370.5C404.33 370.43 405.88 367.43 406.75 368C407.62 368.57 409.17 373.92 410 374.75C410.83 375.58 412.17 374.15 413 374.25C413.83 374.35 415.42 375.23 416.25 375.5C417.08 375.77 418.42 376.35 419.25 376.25C420.08 376.15 421.67 374.42 422.5 374.75C423.33 375.08 424.67 376.88 425.5 378.75C426.33 380.62 427.92 387.28 428.75 388.75C429.58 390.22 430.92 390.45 431.75 389.75C432.58 389.05 434.17 383.8 435 383.5C435.83 383.2 437.17 386.23 438 387.5C438.83 388.77 440.42 393.1 441.25 393C442.08 392.9 443.42 388.02 444.25 386.75C445.08 385.48 446.67 384.27 447.5 383.5C448.33 382.73 449.67 380.73 450.5 381C451.33 381.27 452.92 385.4 453.75 385.5C454.58 385.6 455.92 382.25 456.75 381.75C457.58 381.25 459.17 381.98 460 381.75C460.83 381.52 462.17 379.83 463 380C463.83 380.17 465.42 382.83 466.25 383C467.08 383.17 468.42 380.85 469.25 381.25C470.08 381.65 471.57 386.77 472.5 386C473.43 385.23 475.35 377.4 476.25 375.5C477.15 373.6 478.48 372.85 479.25 371.75C480.02 370.65 481.23 367.25 482 367.25C482.77 367.25 484.2 370.88 485 371.75C485.8 372.62 487.17 374.18 488 373.75C488.83 373.32 490.38 368.17 491.25 368.5C492.12 368.83 493.67 375.48 494.5 376.25C495.33 377.02 496.7 374.62 497.5 374.25C498.3 373.88 499.5 373.67 500.5 373.5C501.5 373.33 503.73 373.13 505 373C506.27 372.87 508.93 373 510 372.5C511.07 372 512.17 370.25 513 369.25C513.83 368.25 515.38 365.9 516.25 365C517.12 364.1 518.67 362.87 519.5 362.5C520.33 362.13 521.6 362.28 522.5 362.25C523.4 362.22 525.32 361.05 526.25 362.25C527.18 363.45 528.67 370.58 529.5 371.25C530.33 371.92 531.67 367.78 532.5 367.25C533.33 366.72 534.92 366.65 535.75 367.25C536.58 367.85 537.92 370.88 538.75 371.75C539.58 372.62 541.17 373.52 542 373.75C542.83 373.98 544.1 374.1 545 373.5C545.9 372.9 547.85 369.75 548.75 369.25C549.65 368.75 550.92 369.52 551.75 369.75C552.58 369.98 554.17 370 555 371C555.83 372 557.17 376.22 558 377.25C558.83 378.28 560.42 378.65 561.25 378.75C562.08 378.85 563.42 378.6 564.25 378C565.08 377.4 566.67 375.18 567.5 374.25C568.33 373.32 569.67 371.27 570.5 371C571.33 370.73 572.92 372.75 573.75 372.25C574.58 371.75 575.92 366.55 576.75 367.25C577.58 367.95 579.17 376.3 580 377.5C580.83 378.7 582.17 376.78 583 376.25C583.83 375.72 585.42 373.83 586.25 373.5C587.08 373.17 588.42 374.98 589.25 373.75C590.08 372.52 591.67 365.75 592.5 364.25C593.33 362.75 594.67 362.83 595.5 362.5C596.33 362.17 597.92 361.85 598.75 361.75C599.58 361.65 600.92 361.52 601.75 361.75C602.58 361.98 604.23 362.67 605 363.5C605.77 364.33 606.77 366.3 607.5 368C608.23 369.7 609.67 374.48 610.5 376.25C611.33 378.02 612.82 380.18 613.75 381.25C614.68 382.32 616.6 384.08 617.5 384.25C618.4 384.42 619.67 382.33 620.5 382.5C621.33 382.67 622.88 384.6 623.75 385.5C624.62 386.4 626.17 389.25 627 389.25C627.83 389.25 629.17 386.93 630 385.5C630.83 384.07 632.42 379.17 633.25 378.5C634.08 377.83 635.42 380.3 636.25 380.5C637.08 380.7 638.67 380.17 639.5 380C640.33 379.83 641.67 379.75 642.5 379.25C643.33 378.75 644.92 376.52 645.75 376.25C646.58 375.98 647.92 378.08 648.75 377.25C649.58 376.42 651.17 369.9 652 370C652.83 370.1 654.17 377.03 655 378C655.83 378.97 657.42 377.25 658.25 377.25C659.08 377.25 660.42 376.57 661.25 378C662.08 379.43 663.67 387.07 664.5 388C665.33 388.93 666.67 385.83 667.5 385C668.33 384.17 669.92 381.85 670.75 381.75C671.58 381.65 672.92 383.75 673.75 384.25C674.58 384.75 676.17 385.67 677 385.5C677.83 385.33 679.17 382.83 680 383C680.83 383.17 682.42 386.85 683.25 386.75C684.08 386.65 685.42 382.82 686.25 382.25C687.08 381.68 688.6 383.47 689.5 382.5C690.4 381.53 692.1 376.1 693 375C693.9 373.9 695.38 374.08 696.25 374.25C697.12 374.42 698.67 376.92 699.5 376.25C700.33 375.58 701.7 370.95 702.5 369.25C703.3 367.55 704.67 363.83 705.5 363.5C706.33 363.17 707.92 366.75 708.75 366.75C709.58 366.75 710.92 364.17 711.75 363.5C712.58 362.83 714.13 361.05 715 361.75C715.87 362.45 717.42 368.15 718.25 368.75C719.08 369.35 720.42 367.02 721.25 366.25C722.08 365.48 723.67 362.6 724.5 363C725.33 363.4 726.67 366.65 727.5 369.25C728.33 371.85 729.92 381.07 730.75 382.5C731.58 383.93 732.92 380.7 733.75 380C734.58 379.3 736.17 377.85 737 377.25C737.83 376.65 739.17 375.07 740 375.5C740.83 375.93 742.35 379.1 743.25 380.5C744.15 381.9 745.85 385.43 746.75 386C747.65 386.57 749.17 385.02 750 384.75C750.83 384.48 752.15 384.21 753 384C753.85 383.79 755.9 383.31 756.35 383.2" fill="none" stroke="#444" stroke-width="0.75" stroke-linejoin="round"/>
<line x1="0" y1="352.4" x2="866" y2="352.4" stroke="#c4c4c4" stroke-width="0.9"/>
<line x1="0" y1="425.6" x2="865.6" y2="425.6" stroke="#d4d4d4" stroke-width="1.6"/>
<line x1="864.95" y1="18" x2="864.95" y2="426.4" stroke="#d8d8d8" stroke-width="1.6"/>
<line x1="889.6" y1="2.4" x2="889.6" y2="15.2" stroke="#e2e2e2" stroke-width="0.8"/>
<line x1="865.6" y1="70.2" x2="866.6" y2="70.2" stroke="#8a8a8a" stroke-width="0.7"/>
<text class="ax" x="867.6" y="72.1" textLength="13.2" lengthAdjust="spacingAndGlyphs">9,500</text>
<line x1="865.6" y1="135.5" x2="866.6" y2="135.5" stroke="#8a8a8a" stroke-width="0.7"/>
<text class="ax" x="867.6" y="137.4" textLength="13.2" lengthAdjust="spacingAndGlyphs">9,000</text>
<line x1="865.6" y1="200.9" x2="866.6" y2="200.9" stroke="#8a8a8a" stroke-width="0.7"/>
<text class="ax" x="867.6" y="202.8" textLength="13.2" lengthAdjust="spacingAndGlyphs">8,500</text>
<line x1="865.6" y1="266.4" x2="866.6" y2="266.4" stroke="#8a8a8a" stroke-width="0.7"/>
<text class="ax" x="867.6" y="268.3" textLength="13.2" lengthAdjust="spacingAndGlyphs">8,000</text>
<line x1="865.6" y1="331.9" x2="866.6" y2="331.9" stroke="#8a8a8a" stroke-width="0.7"/>
<text class="ax" x="867.6" y="333.8" textLength="13.2" lengthAdjust="spacingAndGlyphs">7,500</text>
<line x1="865.6" y1="355.1" x2="866.6" y2="355.1" stroke="#8a8a8a" stroke-width="0.7"/>
<text class="ax" x="868" y="357" textLength="10" lengthAdjust="spacingAndGlyphs">80.0</text>
<line x1="865.6" y1="364.5" x2="866.6" y2="364.5" stroke="#8a8a8a" stroke-width="0.7"/>
<text class="ax" x="868" y="366.4" textLength="10" lengthAdjust="spacingAndGlyphs">70.0</text>
<line x1="865.6" y1="374.4" x2="866.6" y2="374.4" stroke="#8a8a8a" stroke-width="0.7"/>
<text class="ax" x="868" y="376.3" textLength="10" lengthAdjust="spacingAndGlyphs">60.0</text>
<line x1="865.6" y1="393.7" x2="866.6" y2="393.7" stroke="#8a8a8a" stroke-width="0.7"/>
<text class="ax" x="868" y="395.6" textLength="10" lengthAdjust="spacingAndGlyphs">40.0</text>
<line x1="865.6" y1="403.5" x2="866.6" y2="403.5" stroke="#8a8a8a" stroke-width="0.7"/>
<text class="ax" x="868" y="405.4" textLength="10" lengthAdjust="spacingAndGlyphs">30.0</text>
<line x1="865.6" y1="413" x2="866.6" y2="413" stroke="#8a8a8a" stroke-width="0.7"/>
<text class="ax" x="868" y="414.9" textLength="10" lengthAdjust="spacingAndGlyphs">20.0</text>
<line x1="865.6" y1="422.5" x2="866.6" y2="422.5" stroke="#8a8a8a" stroke-width="0.7"/>
<text class="ax" x="868" y="424.4" textLength="10" lengthAdjust="spacingAndGlyphs">10.0</text>
<text x="868" y="366.4" font-size="5.4" font-weight="bold" fill="#222" textLength="5.4" lengthAdjust="spacingAndGlyphs">70</text>
<text x="868" y="405.4" font-size="5.4" font-weight="bold" fill="#222" textLength="5.4" lengthAdjust="spacingAndGlyphs">30</text>
<path d="M861.4 62.8L864.2 59.3H881.6V66.3H864.2Z" fill="#f68a1e"/>
<text x="866.6" y="64.7" font-size="5.4" fill="#3a2a10" textLength="13.6" lengthAdjust="spacingAndGlyphs">9,558</text>
<path d="M861.4 80.5L864.2 77.2H881.6V83.8H864.2Z" fill="#39c6c9"/>
<text x="866.6" y="82.4" font-size="5.4" fill="#1d5b5c" textLength="13.6" lengthAdjust="spacingAndGlyphs">9,422</text>
<path d="M861.4 84.3L864.2 80.9H888.6V87.7H864.2Z" fill="#5b4cae"/>
<text x="866.6" y="86.2" font-size="5.4" fill="#fff" textLength="20.4" lengthAdjust="spacingAndGlyphs">9,393.50</text>
<path d="M861.4 98.2L864.2 94.6H881.6V101.8H864.2Z" fill="#f68a1e"/>
<text x="866.6" y="100.1" font-size="5.4" fill="#3a2a10" textLength="13.6" lengthAdjust="spacingAndGlyphs">9,287</text>
<path d="M861 383.2L864.6 380H878.8V386.5H864.6Z" fill="#111"/>
<text x="867.2" y="385.1" font-size="5.4" font-weight="bold" fill="#fff" textLength="10" lengthAdjust="spacingAndGlyphs">51.4</text>
<text class="mo" x="55.4" y="433.8" text-anchor="middle">Feb</text>
<text class="mo" x="131.1" y="433.8" text-anchor="middle">Mar</text>
<text class="mo" x="212.5" y="433.8" text-anchor="middle">Apr</text>
<text class="mo" x="291.5" y="433.8" text-anchor="middle">May</text>
<text class="mo" x="373.7" y="433.8" text-anchor="middle">Jun</text>
<text class="mo" x="455.5" y="433.8" text-anchor="middle">Jul</text>
<text class="mo" x="540.5" y="433.8" text-anchor="middle">Aug</text>
<text class="mo" x="622.3" y="433.8" text-anchor="middle">Sept</text>
<text class="mo" x="704.3" y="433.8" text-anchor="middle">Oct</text>
<text class="mo" x="792.5" y="433.8" text-anchor="middle">Nov</text>
<text x="3.4" y="30.8" font-size="5.1" font-weight="bold" fill="#3a3a3a" stroke="#3a3a3a" stroke-width="0.18" textLength="36.2" lengthAdjust="spacingAndGlyphs">UK 100, DAILY</text>
<rect x="0" y="320.5" width="117" height="8.5" fill="#fff" fill-opacity="0.85"/>
<text class="lb" x="-1" y="326.7" textLength="15.3" lengthAdjust="spacingAndGlyphs">VWAP</text>
<text class="ll" x="16" y="326.7" textLength="18" lengthAdjust="spacingAndGlyphs">20 1 2 3</text>
<circle cx="38.8" cy="324.7" r="2.2" fill="none" stroke="#7a7a7a" stroke-width="0.65" stroke-dasharray="0.86 0.87"/>
<circle cx="38.8" cy="324.7" r="1.6" fill="none" stroke="#7a7a7a" stroke-width="0.8"/>
<path d="M44.75 322.85l3.7 3.7m0 -3.7l-3.7 3.7" stroke="#707070" stroke-width="0.7" fill="none"/>
<text class="lb" x="55.6" y="326.7" textLength="30.8" lengthAdjust="spacingAndGlyphs">AUTO TREND</text>
<text class="ll" x="88.3" y="326.7" textLength="10.2" lengthAdjust="spacingAndGlyphs">3 5 2</text>
<circle cx="104.2" cy="324.7" r="2.2" fill="none" stroke="#7a7a7a" stroke-width="0.65" stroke-dasharray="0.86 0.87"/>
<circle cx="104.2" cy="324.7" r="1.6" fill="none" stroke="#7a7a7a" stroke-width="0.8"/>
<path d="M110.15 322.85l3.7 3.7m0 -3.7l-3.7 3.7" stroke="#707070" stroke-width="0.7" fill="none"/>
<rect x="0" y="356.5" width="33.6" height="12.6" fill="#fff" fill-opacity="0.93"/>
<clipPath id="rl"><rect x="0" y="353" width="33.6" height="16"/></clipPath>
<polygon points="12.15,364.3 15,360.5 20,359.25 25,357.5 28.75,361.75 31.3,364.3" fill="#e9e9e9" clip-path="url(#rl)"/>
<text class="lb" x="-0.3" y="365.4" textLength="7.8" lengthAdjust="spacingAndGlyphs">RSI</text>
<text class="ll" x="9.4" y="365.4" textLength="5.2" lengthAdjust="spacingAndGlyphs">14</text>
<circle cx="19.8" cy="363.4" r="2.2" fill="none" stroke="#7a7a7a" stroke-width="0.65" stroke-dasharray="0.86 0.87"/>
<circle cx="19.8" cy="363.4" r="1.6" fill="none" stroke="#7a7a7a" stroke-width="0.8"/>
<path d="M25.95 361.55l3.7 3.7m0 -3.7l-3.7 3.7" stroke="#707070" stroke-width="0.7" fill="none"/>
<path d="M38.4 366V360.7M36.3 362.9L38.4 360.7L40.5 362.9" stroke="#666" stroke-width="0.7" fill="none"/>
<rect x="0" y="0" width="890" height="17" fill="#fff"/>
<line x1="0" y1="17.5" x2="890" y2="17.5" stroke="#a0a0a0" stroke-width="1"/>
<line x1="184.7" y1="13.3" x2="184.7" y2="17" stroke="#ddd" stroke-width="0.6"/>
<line x1="201.6" y1="13.3" x2="201.6" y2="17" stroke="#ddd" stroke-width="0.6"/>
<text class="tb" x="1.6" y="10.3" textLength="14" lengthAdjust="spacingAndGlyphs">Daily</text>
<polygon points="18.6,7.3 23,7.3 20.8,9.6" fill="#4a4a4a"/>
<text class="tb" x="32.8" y="10.3" textLength="27.2" lengthAdjust="spacingAndGlyphs">Technical</text>
<polygon points="63,7.3 67.4,7.3 65.2,9.6" fill="#4a4a4a"/>
<text class="tb" x="76.9" y="10.3" textLength="21.2" lengthAdjust="spacingAndGlyphs">Display</text>
<polygon points="101,7.3 105.4,7.3 103.2,9.6" fill="#4a4a4a"/>
<text class="tb" x="114.8" y="10.3" textLength="14.7" lengthAdjust="spacingAndGlyphs">More</text>
<polygon points="132.3,7.3 136.7,7.3 134.5,9.6" fill="#4a4a4a"/>
<path d="M146.5 10.6V5.7Q146.5 5.2 147 5.2H148.5L149.2 6H151.5Q152 6 152 6.5V7.2H148.3Q147.9 7.2 147.7 7.6Z" fill="#8a8a8a"/>
<path d="M147.1 10.9L148.6 7.8H153.7L152.2 10.9Z" fill="#222"/>
<path d="M162.6 5.1Q162.6 4.7 163 4.7H168.2L169.6 6.1V11.2Q169.6 11.6 169.2 11.6H163Q162.6 11.6 162.6 11.2Z" fill="none" stroke="#222" stroke-width="0.95"/>
<path d="M163.9 4.9V7M168.3 4.9V7" fill="none" stroke="#222" stroke-width="0.8"/>
<rect x="162.6" y="6.8" width="7" height="1.3" fill="#222"/>
<rect x="178.1" y="6.8" width="7" height="1.8" fill="#111"/>
<rect x="194.7" y="6.7" width="7.3" height="1.8" fill="#111"/>
<rect x="197.45" y="4" width="1.8" height="7.2" fill="#111"/>
</svg></body></html>
